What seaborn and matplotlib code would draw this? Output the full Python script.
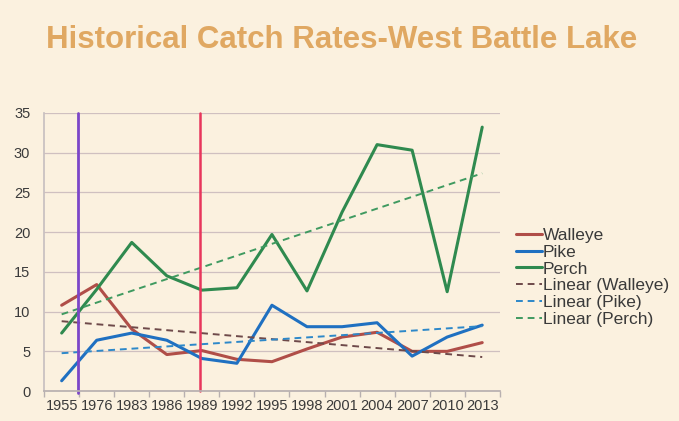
import numpy as np
import pandas as pd
import matplotlib
matplotlib.use("Agg")
import matplotlib.pyplot as plt
import seaborn as sns

years = ["1955", "1976", "1983", "1986", "1989", "1992", "1995", "1998",
         "2001", "2004", "2007", "2010", "2013"]
walleye = [10.8, 13.4, 7.8, 4.6, 5.1, 4.0, 3.7, 5.3, 6.8, 7.4, 5.0, 5.0, 6.1]
pike = [1.3, 6.4, 7.3, 6.4, 4.1, 3.5, 10.8, 8.1, 8.1, 8.6, 4.4, 6.8, 8.3]
perch = [7.3, 12.8, 18.7, 14.5, 12.7, 13.0, 19.7, 12.6, 22.5, 31.0, 30.3, 12.5, 33.2]
yticks = [0, 5, 10, 15, 20, 25, 30, 35]
# positions (in category units) of the two vertical marker lines
marker_purple = 0.46
marker_red = 3.94

sns.set_theme(style="white")
plt.rcParams["font.family"] = ["Liberation Sans", "DejaVu Sans"]

bg = "#fbf1df"
fig = plt.figure(figsize=(6.79, 4.21), dpi=100, facecolor=bg)
ax = fig.add_axes([0.065, 0.071, 0.671, 0.661])
ax.set_facecolor("none")

idx = np.arange(len(years))
df = pd.DataFrame({"idx": idx, "Walleye": walleye, "Pike": pike, "Perch": perch})

series = [("Walleye", "#b04e48", "#6e4a4a"),
          ("Pike", "#1f70c1", "#2d88c9"),
          ("Perch", "#2f8a4f", "#3f9a60")]

for name, c, _ in series:
    sns.lineplot(data=df, x="idx", y=name, ax=ax, color=c, lw=2.2, label=name)
for name, _, tc in series:
    sns.regplot(data=df, x="idx", y=name, ax=ax, scatter=False, ci=None,
                truncate=True,
                line_kws=dict(color=tc, lw=1.4, ls=(0, (3.5, 2.5))),
                label=f"Linear ({name})")

ax.plot([marker_purple, marker_purple], [35, -0.3], color="#7c46c8", lw=2, clip_on=False)
ax.plot([marker_red, marker_red], [35, 0], color="#e8365c", lw=1.8, clip_on=False)

ax.set_xlim(-0.5, len(years) - 0.5)
ax.set_ylim(0, 35)
ax.set_yticks(yticks)
ax.set_yticklabels([str(v) for v in yticks])
ax.set_xticks(idx)
ax.set_xticklabels(years)
ax.set_xticks(np.arange(-0.5, len(years), 1), minor=True)
ax.tick_params(axis="x", which="major", length=0, labelsize=10.5, colors="#3a3a3a", pad=6)
ax.tick_params(axis="x", which="minor", length=4, color="#b8b0b0", direction="out", bottom=True)
ax.tick_params(axis="y", length=0, labelsize=10.5, colors="#3a3a3a", pad=10)
ax.set_xlabel("")
ax.set_ylabel("")
ax.grid(axis="y", color="#cfc0c0", lw=0.9)
ax.grid(axis="x", visible=False)
for s in ["top", "right"]:
    ax.spines[s].set_visible(False)
ax.spines["left"].set_color("#c8c0c0")
ax.spines["bottom"].set_color("#b8b0b0")

handles, labels = ax.get_legend_handles_labels()
if ax.legend_:
    ax.legend_.remove()
fig.legend(handles, labels, loc="center left", bbox_to_anchor=(0.737, 0.341),
           frameon=False, fontsize=12.5, handlelength=1.5, handletextpad=0.05,
           labelspacing=0.1, labelcolor="#3a3a3a")

fig.text(0.503, 0.886, "Historical Catch Rates-West Battle Lake", ha="center",
         va="baseline", fontsize=22.5, fontweight="bold", color="#e0a862")

fig.savefig("out.png", dpi=100, facecolor=bg)
